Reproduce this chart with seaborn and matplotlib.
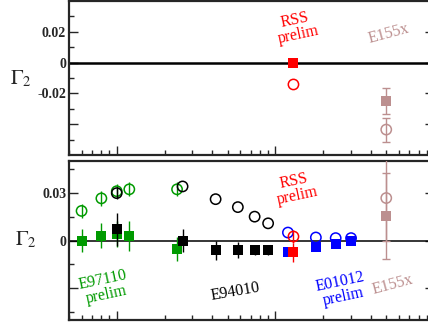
import numpy as np
import pandas as pd
import seaborn as sns
import matplotlib.pyplot as plt
from matplotlib.ticker import LogLocator, NullFormatter, FixedLocator

sns.set_style('ticks')
plt.rcParams['font.family'] = ['Liberation Serif', 'DejaVu Serif']
plt.rcParams['mathtext.fontset'] = 'stix'

GREEN = '#009a00'
ROSY = '#bc8f8f'

# ---- top panel data ----
rss_q_top = [1.3]
rss_filled_top = [0.0]
rss_filled_top_err = [0.0012]
rss_open_top = [-0.0142]
rss_open_top_err = [0.0]

e155_q = [5.0]
e155_filled_top = [-0.025]
e155_filled_top_err = [0.0087]
e155_open_top = [-0.0435]
e155_open_top_err = [0.0078]

# ---- bottom panel data ----
e97_q = [0.06, 0.08, 0.10, 0.12, 0.24]
e97_open = [0.0186, 0.0265, 0.031, 0.0322, 0.0322]
e97_open_err = [0.0045, 0.0045, 0.0045, 0.0045, 0.0045]
e97_filled = [0.0, 0.003, 0.004, 0.003, -0.0053]
e97_filled_err = [0.0075, 0.008, 0.008, 0.0095, 0.0075]

e94_q = [0.10, 0.26, 0.42, 0.58, 0.74, 0.90]
e94_open = [0.0298, 0.034, 0.026, 0.021, 0.015, 0.0108]
e94_open_err = [0.004, 0.0, 0.0, 0.0, 0.0, 0.0]
e94_filled = [0.007, 0.0, -0.006, -0.006, -0.006, -0.006]
e94_filled_err = [0.0105, 0.0075, 0.006, 0.005, 0.003, 0.003]

e01_q = [1.2, 1.8, 2.4, 3.0]
e01_open = [0.005, 0.0019, 0.0015, 0.0015]
e01_filled = [-0.0075, -0.0041, -0.0022, -0.0002]

rss_q = [1.3]
rss_open = [0.0025]
rss_open_err = [0.004]
rss_filled = [-0.0075]
rss_filled_err = [0.0058]

e155_filled = [0.0153]
e155_filled_err = [0.027]
e155_open = [0.0267]
e155_open_err = [0.027]


def points(ax, q, y, err, color, filled, cap=0, z=3):
    if err is not None and max(err) > 0:
        ax.errorbar(q, y, yerr=err, fmt='none', ecolor=color, elinewidth=1.0,
                    capsize=cap, capthick=1.0, zorder=z)
    df = pd.DataFrame({'Q2': q, 'G2': y})
    if filled:
        sns.scatterplot(data=df, x='Q2', y='G2', marker='s', color=color, s=55,
                        linewidth=0, ax=ax, zorder=z + 0.5)
    else:
        sns.scatterplot(data=df, x='Q2', y='G2', marker='o', color=color, s=55,
                        ax=ax, zorder=z + 0.5)
        coll = ax.collections[-1]
        coll.set_facecolor('none')
        coll.set_edgecolor(color)
        coll.set_linewidth(1.1)


fig = plt.figure(figsize=(4.28, 3.29), dpi=100)
ax1 = fig.add_axes([69 / 428, 1 - 155 / 329, 365 / 428, 154 / 329])
ax2 = fig.add_axes([69 / 428, 1 - 320 / 329, 365 / 428, 159 / 329])

# top panel
points(ax1, rss_q_top, rss_open_top, rss_open_top_err, 'red', False)
points(ax1, rss_q_top, rss_filled_top, rss_filled_top_err, 'red', True)
points(ax1, e155_q, e155_filled_top, e155_filled_top_err, ROSY, True, cap=2.8)
points(ax1, e155_q, e155_open_top, e155_open_top_err, ROSY, False, cap=2.8)
ax1.axhline(0, color='black', lw=1.8, zorder=2)

ax1.text(1.36, 0.0226, 'RSS\nprelim', color='red', fontsize=11.5, rotation=12,
         ha='center', va='center', linespacing=0.95)
ax1.text(5.2, 0.0187, 'E155x', color=ROSY, fontsize=11.5, rotation=15,
         ha='center', va='center')

# bottom panel
points(ax2, e97_q, e97_filled, e97_filled_err, GREEN, True, z=3)
points(ax2, e97_q, e97_open, e97_open_err, GREEN, False, z=3)
points(ax2, e94_q, e94_filled, e94_filled_err, 'black', True, z=4)
points(ax2, e94_q, e94_open, e94_open_err, 'black', False, z=4)
points(ax2, e01_q, e01_open, None, 'blue', False, z=5)
points(ax2, e01_q, e01_filled, None, 'blue', True, z=5)
points(ax2, rss_q, rss_open, rss_open_err, 'red', False, z=6)
points(ax2, rss_q, rss_filled, rss_filled_err, 'red', True, z=6)
points(ax2, e155_q, e155_open, e155_open_err, ROSY, False, cap=2.8, z=6)
points(ax2, e155_q, e155_filled, e155_filled_err, ROSY, True, cap=2.8, z=6)
ax2.axhline(0, color='black', lw=1.1, zorder=2)

ax2.text(1.34, 0.0327, 'RSS\nprelim', color='red', fontsize=11.5, rotation=12,
         ha='center', va='center', linespacing=0.95)
ax2.text(0.084, -0.0294, 'E97110\nprelim', color=GREEN, fontsize=11.5, rotation=12,
         ha='center', va='center', linespacing=0.95)
ax2.text(0.56, -0.0325, 'E94010', color='black', fontsize=11.5, rotation=10,
         ha='center', va='center')
ax2.text(2.62, -0.0306, 'E01012\nprelim', color='blue', fontsize=11.5, rotation=12,
         ha='center', va='center', linespacing=0.95)
ax2.text(5.5, -0.028, 'E155x', color=ROSY, fontsize=11.5, rotation=15,
         ha='center', va='center')

for ax in (ax1, ax2):
    ax.set_xscale('log')
    ax.set_xlim(0.05, 10)
    ax.xaxis.set_major_locator(LogLocator(base=10))
    ax.xaxis.set_minor_locator(LogLocator(base=10, subs=np.arange(2, 10)))
    ax.xaxis.set_major_formatter(NullFormatter())
    ax.xaxis.set_minor_formatter(NullFormatter())
    ax.tick_params(which='major', direction='in', length=6.5, width=1.0,
                   left=True, right=True, bottom=True, top=False, pad=2,
                   labelsize=10)
    ax.tick_params(which='minor', direction='in', length=3.3, width=1.0,
                   left=True, right=True, bottom=True, top=False)
    for s in ax.spines.values():
        s.set_visible(True)
        s.set_linewidth(1.6)
    ax.set_xlabel('')
    ax.set_ylabel('')

ax1.set_ylim(-0.06, 0.04)
ax1.yaxis.set_major_locator(FixedLocator([0.02, 0.0, -0.02, -0.04]))
ax1.set_yticklabels(['0.02', '0', '-0.02', ''], fontweight='bold')
ax1.yaxis.set_minor_locator(FixedLocator([0.03, 0.01, -0.01, -0.03, -0.05]))

ax2.set_ylim(-0.05, 0.05)
ax2.yaxis.set_major_locator(FixedLocator([0.03, 0.0, -0.03]))
ax2.set_yticklabels(['0.03', '0', ''], fontweight='bold')
ax2.yaxis.set_minor_locator(FixedLocator([0.045, 0.015, -0.015, -0.045]))

fig.text(21 / 428, 1 - 79 / 329, r'$\Gamma_2$', fontsize=15, ha='center', va='center')
fig.text(26 / 428, 1 - 240 / 329, r'$\Gamma_2$', fontsize=15, ha='center', va='center')

fig.savefig('out.png', dpi=100)
